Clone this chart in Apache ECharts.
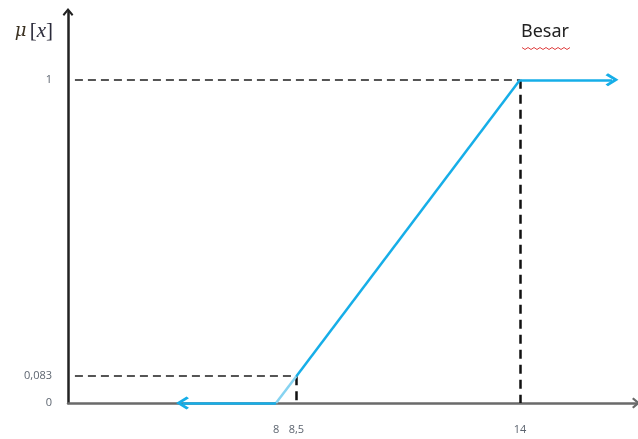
<!DOCTYPE html>
<html>
<head>
<meta charset="utf-8">
<script src="https://cdn.jsdelivr.net/npm/echarts@6/dist/echarts.min.js"></script>
<style>html,body{margin:0;padding:0;background:#fff;}#c{width:638px;height:439px;}</style>
</head>
<body>
<div id="c"></div>
<script>
// ---- data ----
const xTicks = [8, 8.5, 14];
const xTickLabels = ['8', '8,5', '14'];
const yTicks = [0, 0.083, 1];
const yTickLabels = ['0', '0,083', '1'];
const besarX = [8, 8.5, 14];
const besarY = [0, 0.083, 1];
const leftArrowX = 5.7;    // arrow pointing to the left from x = 8
const rightArrowX = 16.26; // arrow pointing to the right from x = 14
const seriesName = 'Besar';

const xMin = 2.885, xMax = 16.85, yMin = 0, yMax = 1.21;

const chevron = 'path://M5,0 L10,6 L8.6,7.4 L5,3 L1.4,7.4 L0,6 Z';
const blue = '#16aee8';
const blueLight = '#86d3f1';

function seg(a, b) { return { coords: [a, b] }; }

const option = {
  animation: false,
  backgroundColor: '#fff',
  grid: { left: 68, right: 2, top: 12, bottom: 36, containLabel: false },
  title: {
    text: seriesName, left: 521, top: 23, padding: 0,
    textStyle: { fontFamily: 'Noto Sans', fontSize: 18, fontWeight: 'normal', color: '#222' }
  },
  graphic: [{
    type: 'polyline', silent: true,
    shape: { points: (function () { const p = []; for (let i = 0; i <= 16; i++) p.push([522 + i * 3, 48 + (i % 2 ? 1.5 : -0.5)]); return p; })() },
    style: { stroke: '#e04040', lineWidth: 1, fill: null }
  }],
  xAxis: {
    type: 'value', min: xMin, max: xMax,
    axisLine: { show: true, symbol: ['none', chevron], symbolSize: [11, 8],
      lineStyle: { color: '#6a6a6a', width: 2.5 } },
    axisTick: { show: false },
    splitLine: { show: false },
    axisLabel: {
      customValues: xTicks,
      formatter: function (v) { const i = xTicks.indexOf(v); return i >= 0 ? xTickLabels[i] : ''; },
      margin: 21, color: '#5d6570', fontFamily: 'Open Sans', fontSize: 11
    }
  },
  yAxis: {
    type: 'value', min: yMin, max: yMax,
    name: '{mu|μ} {br|[}{x|x}{br|]}', nameLocation: 'end', nameGap: -30,
    nameTextStyle: {
      align: 'right', padding: [0, 15, 0, 0],
      rich: {
        mu: { fontFamily: 'DejaVu Serif', fontStyle: 'italic', fontSize: 18, color: '#3a3020' },
        br: { fontFamily: 'Liberation Serif', fontSize: 21, color: '#2a2a3a' },
        x: { fontFamily: 'Liberation Serif', fontStyle: 'italic', fontSize: 21, color: '#2a2a3a' }
      }
    },
    axisLine: { show: true, symbol: ['none', chevron], symbolSize: [11, 8],
      lineStyle: { color: '#222', width: 2.5 } },
    axisTick: { show: false },
    splitLine: { show: false },
    axisLabel: {
      customValues: yTicks,
      formatter: function (v) { const i = yTicks.indexOf(v); return i >= 0 ? yTickLabels[i] : ''; },
      margin: 16, color: '#5d6570', fontFamily: 'Open Sans', fontSize: 11
    }
  },
  series: [
    { // horizontal guides
      type: 'lines', coordinateSystem: 'cartesian2d', z: 3, clip: false,
      lineStyle: { color: '#555', width: 2, type: [8, 5], opacity: 1 },
      data: [
        seg([xMin + 0.17, besarY[2]], [besarX[2], besarY[2]]),
        seg([xMin + 0.17, besarY[1]], [besarX[1], besarY[1]])
      ]
    },
    { // vertical guides
      type: 'lines', coordinateSystem: 'cartesian2d', z: 3, clip: false,
      lineStyle: { color: '#111', width: 2.5, type: [9, 6], opacity: 1 },
      data: [
        seg([besarX[2], besarY[2]], [besarX[2], yMin]),
        seg([besarX[1], besarY[1]], [besarX[1], yMin])
      ]
    },
    { // membership line, lower light part
      type: 'lines', coordinateSystem: 'cartesian2d', z: 5, clip: false,
      lineStyle: { color: blueLight, width: 2.5, opacity: 1 },
      data: [seg([besarX[0], besarY[0]], [besarX[1], besarY[1]])]
    },
    { // membership line, rising part
      type: 'lines', coordinateSystem: 'cartesian2d', z: 5, clip: false,
      lineStyle: { color: blue, width: 2.5, opacity: 1 },
      data: [seg([besarX[1], besarY[1]], [besarX[2], besarY[2]])]
    },
    { // arrows
      type: 'lines', coordinateSystem: 'cartesian2d', z: 6, clip: false,
      symbol: ['none', chevron], symbolSize: 13,
      lineStyle: { color: blue, width: 2.5, opacity: 1 },
      itemStyle: { color: blue },
      data: [
        seg([besarX[2], besarY[2]], [rightArrowX, besarY[2]]),
        seg([besarX[0], besarY[0]], [leftArrowX, besarY[0]])
      ]
    }
  ]
};

const chart = echarts.init(document.getElementById('c'));
chart.setOption(option);
</script>
</body>
</html>
